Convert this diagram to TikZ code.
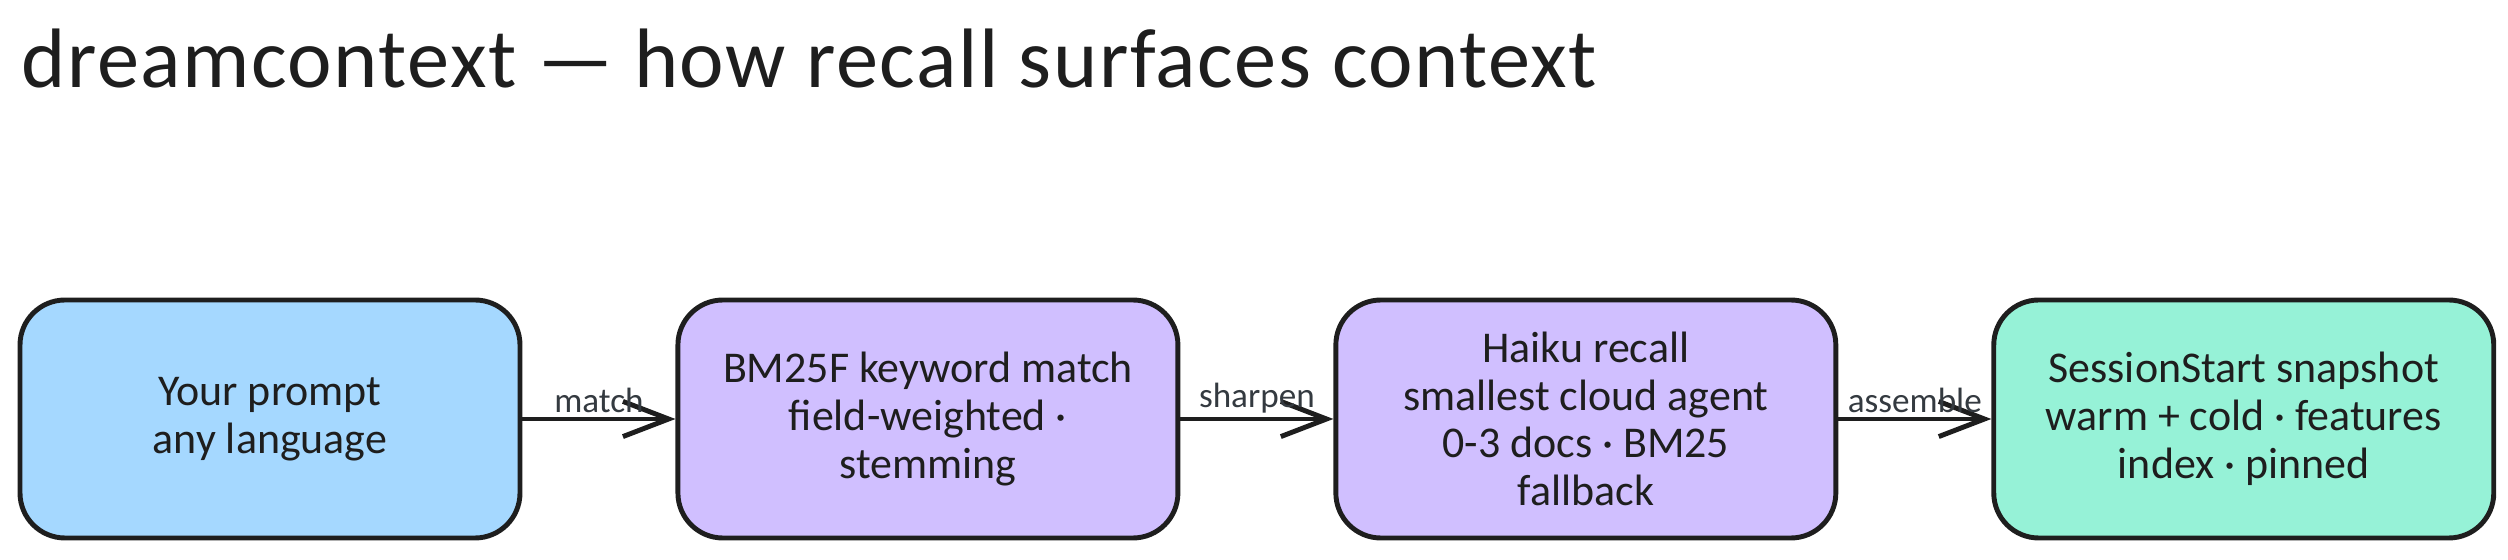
\documentclass[tikz,border=0pt]{standalone}
\usepackage{fontspec}
\setmainfont{Carlito}
\usetikzlibrary{chains,arrows.meta,positioning}
\definecolor{ink}{HTML}{1E1E1E}
\definecolor{labelgray}{HTML}{343A40}
\definecolor{promptblue}{HTML}{A5D8FF}
\definecolor{recallviolet}{HTML}{D0BFFF}
\definecolor{snapgreen}{HTML}{96F2D7}
\tikzset{
  stage/.style={
    % The shape:
    rectangle,
    rounded corners=4.5mm,
    % The size:
    minimum width=50mm,
    minimum height=23.8mm,
    % The border:
    line width=1.4pt,
    draw=ink,
    % The text:
    align=center,
    text=ink,
    font=\fontsize{12.5}{13.6}\selectfont},
  prompt stage/.style={stage,fill=promptblue},
  recall stage/.style={stage,fill=recallviolet},
  snapshot stage/.style={stage,fill=snapgreen},
  flow label/.style={
    anchor=south,
    inner sep=1pt,
    text=labelgray,
    font=\fontsize{10}{12}\selectfont}
}

\begin{document}
\begin{tikzpicture}[tip/.style={-{Straight Barb[length=13pt,width=10pt,line width=1.4pt]}},
                    line width=1.4pt,draw=ink,
                    start chain=going right,node distance=15.3mm]
  \useasboundingbox (0,0) rectangle (25.08,5.6);

  \node (title) [anchor=base west,inner sep=0pt,text=ink,
                 font=\fontsize{24}{28}\selectfont\addfontfeature{LetterSpace=1.8}] at (0.19,4.72)
        {dreamcontext — how recall surfaces context};

  \node (prompt)   [prompt stage,on chain] at (2.70,1.41) {Your prompt\\any language};
  \node (keyword)  [recall stage,on chain]   {BM25F keyword match\\field-weighted ·\\stemming};
  \node (haiku)    [recall stage,on chain]   {Haiku recall\\smallest cloud agent\\0-3 docs · BM25\\fallback};
  \node (snapshot) [snapshot stage,on chain] {SessionStart snapshot\\warm + cold · features\\index · pinned};

  \draw[tip] (prompt)  -- node[flow label] {match}    (keyword);
  \draw[tip] (keyword) -- node[flow label] {sharpen}  (haiku);
  \draw[tip] (haiku)   -- node[flow label] {assemble} (snapshot);
\end{tikzpicture}
\end{document}
